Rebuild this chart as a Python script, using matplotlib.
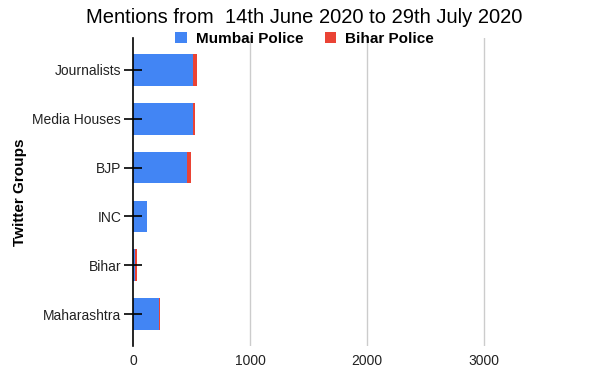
import matplotlib.pyplot as plt

plt.rcParams['font.family'] = ['Liberation Sans', 'DejaVu Sans']

# data
groups = ["Journalists", "Media Houses", "BJP", "INC", "Bihar", "Maharashtra"]
mumbai = [513, 515, 463, 120, 20, 225]
bihar = [34, 15, 29, 0, 15, 6]
xticks = [0, 1000, 2000, 3000]

fig = plt.figure(figsize=(6, 3.71), dpi=100)
ax = fig.add_axes([133 / 600, 1 - 346 / 371, 452 / 600, 308 / 371])

y = list(range(len(groups)))
ax.barh(y, mumbai, height=0.65, color="#4285F4", label="Mumbai Police", zorder=2)
ax.barh(y, bihar, left=mumbai, height=0.65, color="#EA4335", label="Bihar Police", zorder=2)

# gridlines drawn under the bars, ticks above them
for xt in xticks[1:]:
    ax.axvline(xt, color="#cccccc", linewidth=1, zorder=0)
ax.set_axisbelow(False)

ax.set_xlim(0, 3860)
ax.set_ylim(len(groups) - 0.35, -0.65)
ax.set_yticks(y)
ax.set_yticklabels(groups, fontsize=10, color="#222222")
ax.set_xticks(xticks)
ax.set_xticklabels([str(v) for v in xticks], fontsize=10, color="#222222")
ax.tick_params(axis="y", direction="inout", length=13, width=1.2, color="black", pad=2)
ax.tick_params(axis="x", length=0, pad=6)
for s in ["top", "right", "bottom"]:
    ax.spines[s].set_visible(False)
ax.spines["left"].set_color("black")
ax.spines["left"].set_linewidth(1.2)

ax.set_ylabel("Twitter Groups", fontsize=11, fontweight="bold", labelpad=4)

fig.text(0.507, 0.952, "Mentions from  14th June 2020 to 29th July 2020", ha="center", va="center", fontsize=14.5)
fig.legend(loc="center", bbox_to_anchor=(0.508, 0.895), ncol=2, frameon=False,
           prop={"weight": "bold", "size": 11}, handlelength=0.75, handleheight=0.75,
           handletextpad=0.6, columnspacing=1.4)

fig.savefig("out.png", dpi=100)
